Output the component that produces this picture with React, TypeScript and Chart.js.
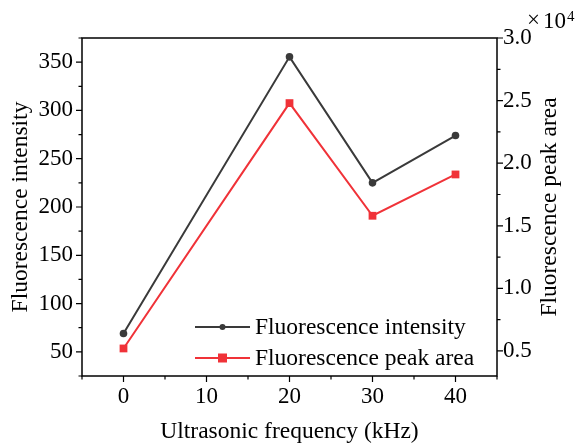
import React, { useEffect, useRef } from "react";
import { Chart, registerables } from "chart.js";

Chart.register(...registerables);

const frequencies = [0, 20, 30, 40];
const intensity = [69, 355.5, 225, 274];
const peakArea = [5200, 24800, 15800, 19100];
const xTicks = [0, 10, 20, 30, 40];
const leftTicks = [50, 100, 150, 200, 250, 300, 350];
const rightTicks = [5000, 10000, 15000, 20000, 25000, 30000];
const seriesNames = ["Fluorescence intensity", "Fluorescence peak area"];

const FONT = '"Liberation Serif", "Times New Roman", serif';
const BLACK = "#3a3a3a";
const RED = "#f03238";
const TICK_SIZE = 23;
const TITLE_SIZE = 23.5;

const framePlugin = {
  id: "frame",
  afterDraw(chart: any) {
    const { ctx, chartArea: a, scales } = chart;
    ctx.save();
    ctx.strokeStyle = "#000";
    ctx.lineWidth = 1.5;
    ctx.strokeRect(a.left, a.top, a.right - a.left, a.bottom - a.top);
    ctx.lineWidth = 1.2;
    const x = scales.x;
    const yl = scales.y;
    const yr = scales.y1;
    ctx.beginPath();
    for (let v = -5; v <= 45; v += 5) {
      const px = x.getPixelForValue(v);
      const len = v % 10 === 0 ? 6 : 3.5;
      ctx.moveTo(px, a.bottom);
      ctx.lineTo(px, a.bottom + len);
    }
    for (let v = 25; v <= 375; v += 25) {
      const py = yl.getPixelForValue(v);
      const len = v % 50 === 0 ? 6 : 3.5;
      ctx.moveTo(a.left, py);
      ctx.lineTo(a.left - len, py);
    }
    for (let v = 5000; v <= 30000; v += 2500) {
      const py = yr.getPixelForValue(v);
      const len = v % 5000 === 0 ? 6 : 3.5;
      ctx.moveTo(a.right, py);
      ctx.lineTo(a.right + len, py);
    }
    ctx.stroke();

    // exponent label
    const topPx = yr.getPixelForValue(30000);
    ctx.fillStyle = "#000";
    ctx.textBaseline = "alphabetic";
    ctx.textAlign = "left";
    ctx.font = `${TICK_SIZE}px ${FONT}`;
    ctx.fillText("×", 527, topPx - 11);
    ctx.fillText("10", 543, topPx - 10);
    ctx.font = `15px ${FONT}`;
    ctx.fillText("4", 567, topPx - 17);

    // right axis title (reads bottom to top)
    ctx.save();
    ctx.font = `${TITLE_SIZE}px ${FONT}`;
    ctx.textAlign = "center";
    ctx.textBaseline = "middle";
    ctx.translate(a.right + 53, (a.top + a.bottom) / 2);
    ctx.rotate(-Math.PI / 2);
    ctx.fillText("Fluorescence peak area", 0, 0);
    ctx.restore();

    // legend
    const rows = [
      { y: a.bottom - 49, color: BLACK, style: "circle", r: 3 },
      { y: a.bottom - 18, color: RED, style: "rect", r: 4.5 },
    ];
    const lx1 = a.left + 113;
    const lx2 = a.left + 168;
    rows.forEach((row, i) => {
      ctx.strokeStyle = row.color;
      ctx.lineWidth = 2;
      ctx.beginPath();
      ctx.moveTo(lx1, row.y);
      ctx.lineTo(lx2, row.y);
      ctx.stroke();
      ctx.fillStyle = row.color;
      const cx = (lx1 + lx2) / 2;
      if (row.style === "circle") {
        ctx.beginPath();
        ctx.arc(cx, row.y, row.r, 0, Math.PI * 2);
        ctx.fill();
      } else {
        ctx.fillRect(cx - row.r, row.y - row.r, row.r * 2, row.r * 2);
      }
      ctx.fillStyle = "#000";
      ctx.font = `${TITLE_SIZE}px ${FONT}`;
      ctx.textAlign = "left";
      ctx.textBaseline = "middle";
      ctx.fillText(seriesNames[i], lx2 + 5, row.y + 1);
    });
    ctx.restore();
  },
};

export default function App() {
  const ref = useRef<HTMLCanvasElement>(null);
  useEffect(() => {
    if (!ref.current) return;
    const chart = new Chart(ref.current, {
      type: "line",
      data: {
        datasets: [
          {
            label: seriesNames[0],
            data: frequencies.map((f, i) => ({ x: f, y: intensity[i] })),
            borderColor: BLACK,
            backgroundColor: BLACK,
            borderWidth: 2,
            pointStyle: "circle",
            pointRadius: 3.8,
            pointBorderWidth: 0,
            yAxisID: "y",
          },
          {
            label: seriesNames[1],
            data: frequencies.map((f, i) => ({ x: f, y: peakArea[i] })),
            borderColor: RED,
            backgroundColor: RED,
            borderWidth: 2,
            pointStyle: "rect",
            pointRadius: 5.5,
            pointBorderWidth: 0,
            yAxisID: "y1",
          },
        ],
      },
      options: {
        animation: false,
        responsive: false,
        layout: { padding: { top: 38, left: 0, right: 0, bottom: 0 } },
        plugins: { legend: { display: false }, tooltip: { enabled: false } },
        scales: {
          x: {
            type: "linear",
            min: -5,
            max: 45,
            afterBuildTicks: (s: any) => {
              s.ticks = xTicks.map((v) => ({ value: v }));
            },
            afterFit: (s: any) => {
              s.height = 70;
            },
            grid: { display: false, drawTicks: false },
            border: { display: false },
            ticks: {
              padding: 7,
              color: "#000",
              font: { family: FONT, size: TICK_SIZE },
              maxRotation: 0,
            },
            title: {
              display: true,
              text: "Ultrasonic frequency (kHz)",
              color: "#000",
              font: { family: FONT, size: TITLE_SIZE },
              padding: { top: 6, bottom: 0 },
            },
          },
          y: {
            type: "linear",
            position: "left",
            min: 25,
            max: 375,
            afterBuildTicks: (s: any) => {
              s.ticks = leftTicks.map((v) => ({ value: v }));
            },
            afterFit: (s: any) => {
              s.width = 82;
            },
            grid: { display: false, drawTicks: false },
            border: { display: false },
            ticks: {
              padding: 9,
              color: "#000",
              font: { family: FONT, size: TICK_SIZE },
            },
            title: {
              display: true,
              text: "Fluorescence intensity",
              color: "#000",
              font: { family: FONT, size: TITLE_SIZE },
              padding: { top: 7, bottom: 0 },
            },
          },
          y1: {
            type: "linear",
            position: "right",
            min: 3000,
            max: 30000,
            afterBuildTicks: (s: any) => {
              s.ticks = rightTicks.map((v) => ({ value: v }));
            },
            afterFit: (s: any) => {
              s.width = 82;
            },
            grid: { display: false, drawTicks: false },
            border: { display: false },
            ticks: {
              padding: 6,
              color: "#000",
              font: { family: FONT, size: TICK_SIZE },
              callback: (v: any) => (Number(v) / 10000).toFixed(1),
            },
          },
        },
      },
      plugins: [framePlugin],
    });
    return () => chart.destroy();
  }, []);
  return (
    <div style={{ position: "fixed", left: 0, top: 0, width: 579, height: 446, background: "#fff" }}>
      <canvas ref={ref} width={579} height={446} style={{ width: 579, height: 446 }} />
    </div>
  );
}
